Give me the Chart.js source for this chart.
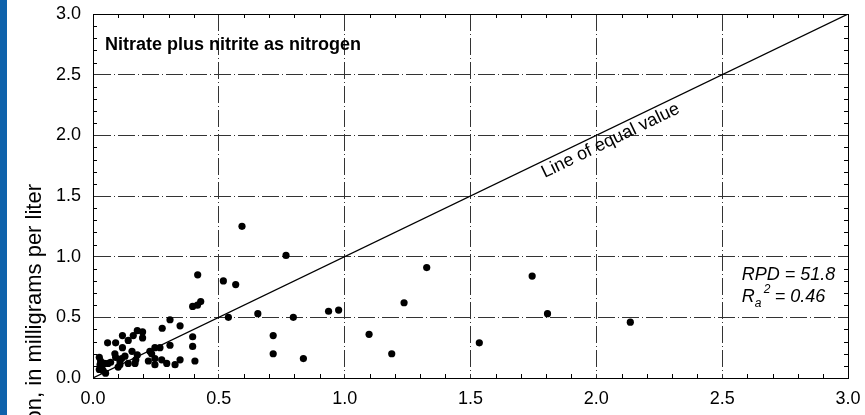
<!DOCTYPE html>
<html>
<head>
<meta charset="utf-8">
<script src="https://cdn.jsdelivr.net/npm/chart.js@4.4.1/dist/chart.umd.min.js"></script>
<style>
  html, body { margin: 0; padding: 0; background: #fff; }
  #wrap { position: relative; width: 865px; height: 415px; overflow: hidden; }
  #barra { position: absolute; left: 0; top: 0; width: 7px; height: 415px; background: #0e62ab; }
  canvas { position: absolute; left: 0; top: 0; }
</style>
</head>
<body>
<div id="wrap">
  <canvas id="grafico" width="865" height="415"></canvas>
  <div id="barra"></div>
</div>
<script>

// valores (x = eixo horizontal, y = eixo vertical)
const valores_x = [
    0.025, 0.030, 0.028, 0.035, 0.025, 0.040, 0.050, 0.045, 0.060, 0.070,
    0.058, 0.090, 0.087, 0.090, 0.100, 0.107, 0.107, 0.114, 0.117, 0.117,
    0.127, 0.140, 0.140, 0.155, 0.160, 0.167, 0.170, 0.176, 0.176, 0.197,
    0.197, 0.220, 0.226, 0.233, 0.246, 0.246, 0.246, 0.266, 0.273, 0.275,
    0.293, 0.306, 0.306, 0.326, 0.346, 0.346, 0.396, 0.396, 0.405, 0.396,
    0.415, 0.428, 0.416, 0.518, 0.538, 0.567, 0.592, 0.655, 0.716, 0.716,
    0.767, 0.796, 0.836, 0.936, 0.976, 1.097, 1.187, 1.236, 1.326, 1.535,
    1.745, 1.806, 2.135
];
const valores_y = [
    0.17, 0.14, 0.11, 0.09, 0.07, 0.06, 0.04, 0.12, 0.12, 0.13,
    0.29, 0.29, 0.20, 0.17, 0.09, 0.11, 0.14, 0.16, 0.25, 0.35,
    0.18, 0.12, 0.31, 0.22, 0.35, 0.12, 0.15, 0.19, 0.39, 0.38,
    0.33, 0.14, 0.22, 0.20, 0.25, 0.16, 0.11, 0.25, 0.15, 0.41,
    0.12, 0.27, 0.48, 0.11, 0.15, 0.43, 0.34, 0.26, 0.14, 0.59,
    0.60, 0.63, 0.85, 0.80, 0.50, 0.77, 1.25, 0.53, 0.35, 0.20,
    1.01, 0.50, 0.16, 0.55, 0.56, 0.36, 0.20, 0.62, 0.91, 0.29,
    0.84, 0.53, 0.46
];

// linha de valores iguais
const linha_igual = [0, 3];

// textos
const titulo_grafico = 'Nitrate plus nitrite as nitrogen';
const titulo_eixo_y = 'Concentration, in milligrams per liter';
const texto_linha = 'Line of equal value';
const texto_rpd = 'RPD = 51.8';
const texto_r2 = '= 0.46';

const FONTE = '"Liberation Sans", Arial, Helvetica, sans-serif';


const pontos = valores_x.map((x, i) => ({ x: x, y: valores_y[i] }));


// Desenha moldura, marcas menores e textos
const plugin_decoracao = {
    id: 'decoracao',
    afterDraw(chart) {
        const ctx = chart.ctx;
        const a = chart.chartArea;
        const ex = chart.scales.x;
        const ey = chart.scales.y;

        ctx.save();

        //marcas menores a cada 0.1, para dentro
        ctx.strokeStyle = '#000';
        ctx.lineWidth = 1;
        ctx.beginPath();
        for (let i = 1; i < 30; i++) {
            if (i % 5 == 0) continue;
            const px = Math.round(ex.getPixelForValue(i / 10)) + 0.5;
            ctx.moveTo(px, a.top); ctx.lineTo(px, a.top + 4);
            ctx.moveTo(px, a.bottom); ctx.lineTo(px, a.bottom - 4);
            const py = Math.round(ey.getPixelForValue(i / 10)) + 0.5;
            ctx.moveTo(a.left, py); ctx.lineTo(a.left + 4, py);
            ctx.moveTo(a.right, py); ctx.lineTo(a.right - 4, py);
        }
        ctx.stroke();

        //moldura
        ctx.strokeRect(Math.round(a.left) + 0.5, Math.round(a.top) + 0.5,
                       Math.round(a.right - a.left), Math.round(a.bottom - a.top));

        ctx.fillStyle = '#000';

        //titulo
        ctx.font = 'bold 18px ' + FONTE;
        ctx.textAlign = 'left';
        ctx.textBaseline = 'alphabetic';
        ctx.fillText(titulo_grafico, a.left + 12, a.top + 36);

        //texto da linha de valores iguais
        const x0 = ex.getPixelForValue(linha_igual[0]);
        const y0 = ey.getPixelForValue(linha_igual[0]);
        const x1 = ex.getPixelForValue(linha_igual[1]);
        const y1 = ey.getPixelForValue(linha_igual[1]);
        const angulo = Math.atan2(y1 - y0, x1 - x0);
        ctx.save();
        ctx.translate(ex.getPixelForValue(1.767), ey.getPixelForValue(1.767));
        ctx.rotate(angulo);
        ctx.font = '18px ' + FONTE;
        ctx.fillText(texto_linha, 0, 16);
        ctx.restore();

        //estatisticas
        ctx.font = 'italic 18px ' + FONTE;
        const rx = ex.getPixelForValue(2.578);
        ctx.fillText(texto_rpd, rx, ey.getPixelForValue(0.808));
        const by = ey.getPixelForValue(0.627);
        ctx.fillText('R', rx, by);
        const wr = ctx.measureText('R').width;
        ctx.font = 'italic 12px ' + FONTE;
        ctx.fillText('a', rx + wr, by + 5);
        ctx.fillText('2', rx + wr + 9, by - 9);
        ctx.font = 'italic 18px ' + FONTE;
        ctx.fillText(texto_r2, rx + wr + 20, by);

        //titulo do eixo y (cortado pela borda inferior)
        ctx.save();
        ctx.translate(41, 184);
        ctx.rotate(-Math.PI / 2);
        ctx.font = '22px ' + FONTE;
        ctx.textAlign = 'right';
        ctx.fillText(titulo_eixo_y, 0, 0);
        ctx.restore();

        ctx.restore();
    }
};


const cor_grade = (c) => (c.tick && (c.tick.value == 0 || c.tick.value == 3)) ? 'rgba(0,0,0,0)' : '#333';

new Chart(document.getElementById('grafico'), {
    type: 'scatter',
    data: {
        datasets: [
            {
                data: pontos,
                backgroundColor: '#000',
                borderColor: '#000',
                pointRadius: 3.6,
                pointHoverRadius: 3.6,
                borderWidth: 0
            },
            {
                type: 'line',
                data: linha_igual.map(v => ({ x: v, y: v })),
                borderColor: '#000',
                borderWidth: 1.2,
                pointRadius: 0,
                fill: false
            }
        ]
    },
    options: {
        responsive: false,
        animation: false,
        events: [],
        layout: { autoPadding: false, padding: { left: 0, top: 14, right: 17, bottom: 0 } },
        plugins: {
            legend: { display: false },
            tooltip: { enabled: false }
        },
        scales: {
            x: {
                type: 'linear',
                min: 0,
                max: 3,
                afterFit: (s) => { s.height = 37; s.paddingLeft = 0; s.paddingRight = 0; },
                ticks: {
                    stepSize: 0.5,
                    color: '#000',
                    padding: 10,
                    maxRotation: 0,
                    font: { family: FONTE, size: 18 },
                    callback: (v) => v.toFixed(1)
                },
                grid: { color: cor_grade, lineWidth: 1, drawTicks: false },
                border: { display: true, color: '#000', width: 1, dash: [17, 3, 1, 3] }
            },
            y: {
                type: 'linear',
                min: 0,
                max: 3,
                afterFit: (s) => { s.width = 93; s.paddingTop = 0; s.paddingBottom = 0; },
                ticks: {
                    stepSize: 0.5,
                    color: '#000',
                    padding: 12,
                    font: { family: FONTE, size: 18 },
                    callback: (v) => v.toFixed(1)
                },
                grid: { color: cor_grade, lineWidth: 1, drawTicks: false },
                border: { display: true, color: '#000', width: 1, dash: [17, 3, 1, 3] }
            }
        }
    },
    plugins: [plugin_decoracao]
});
</script>
</body>
</html>
